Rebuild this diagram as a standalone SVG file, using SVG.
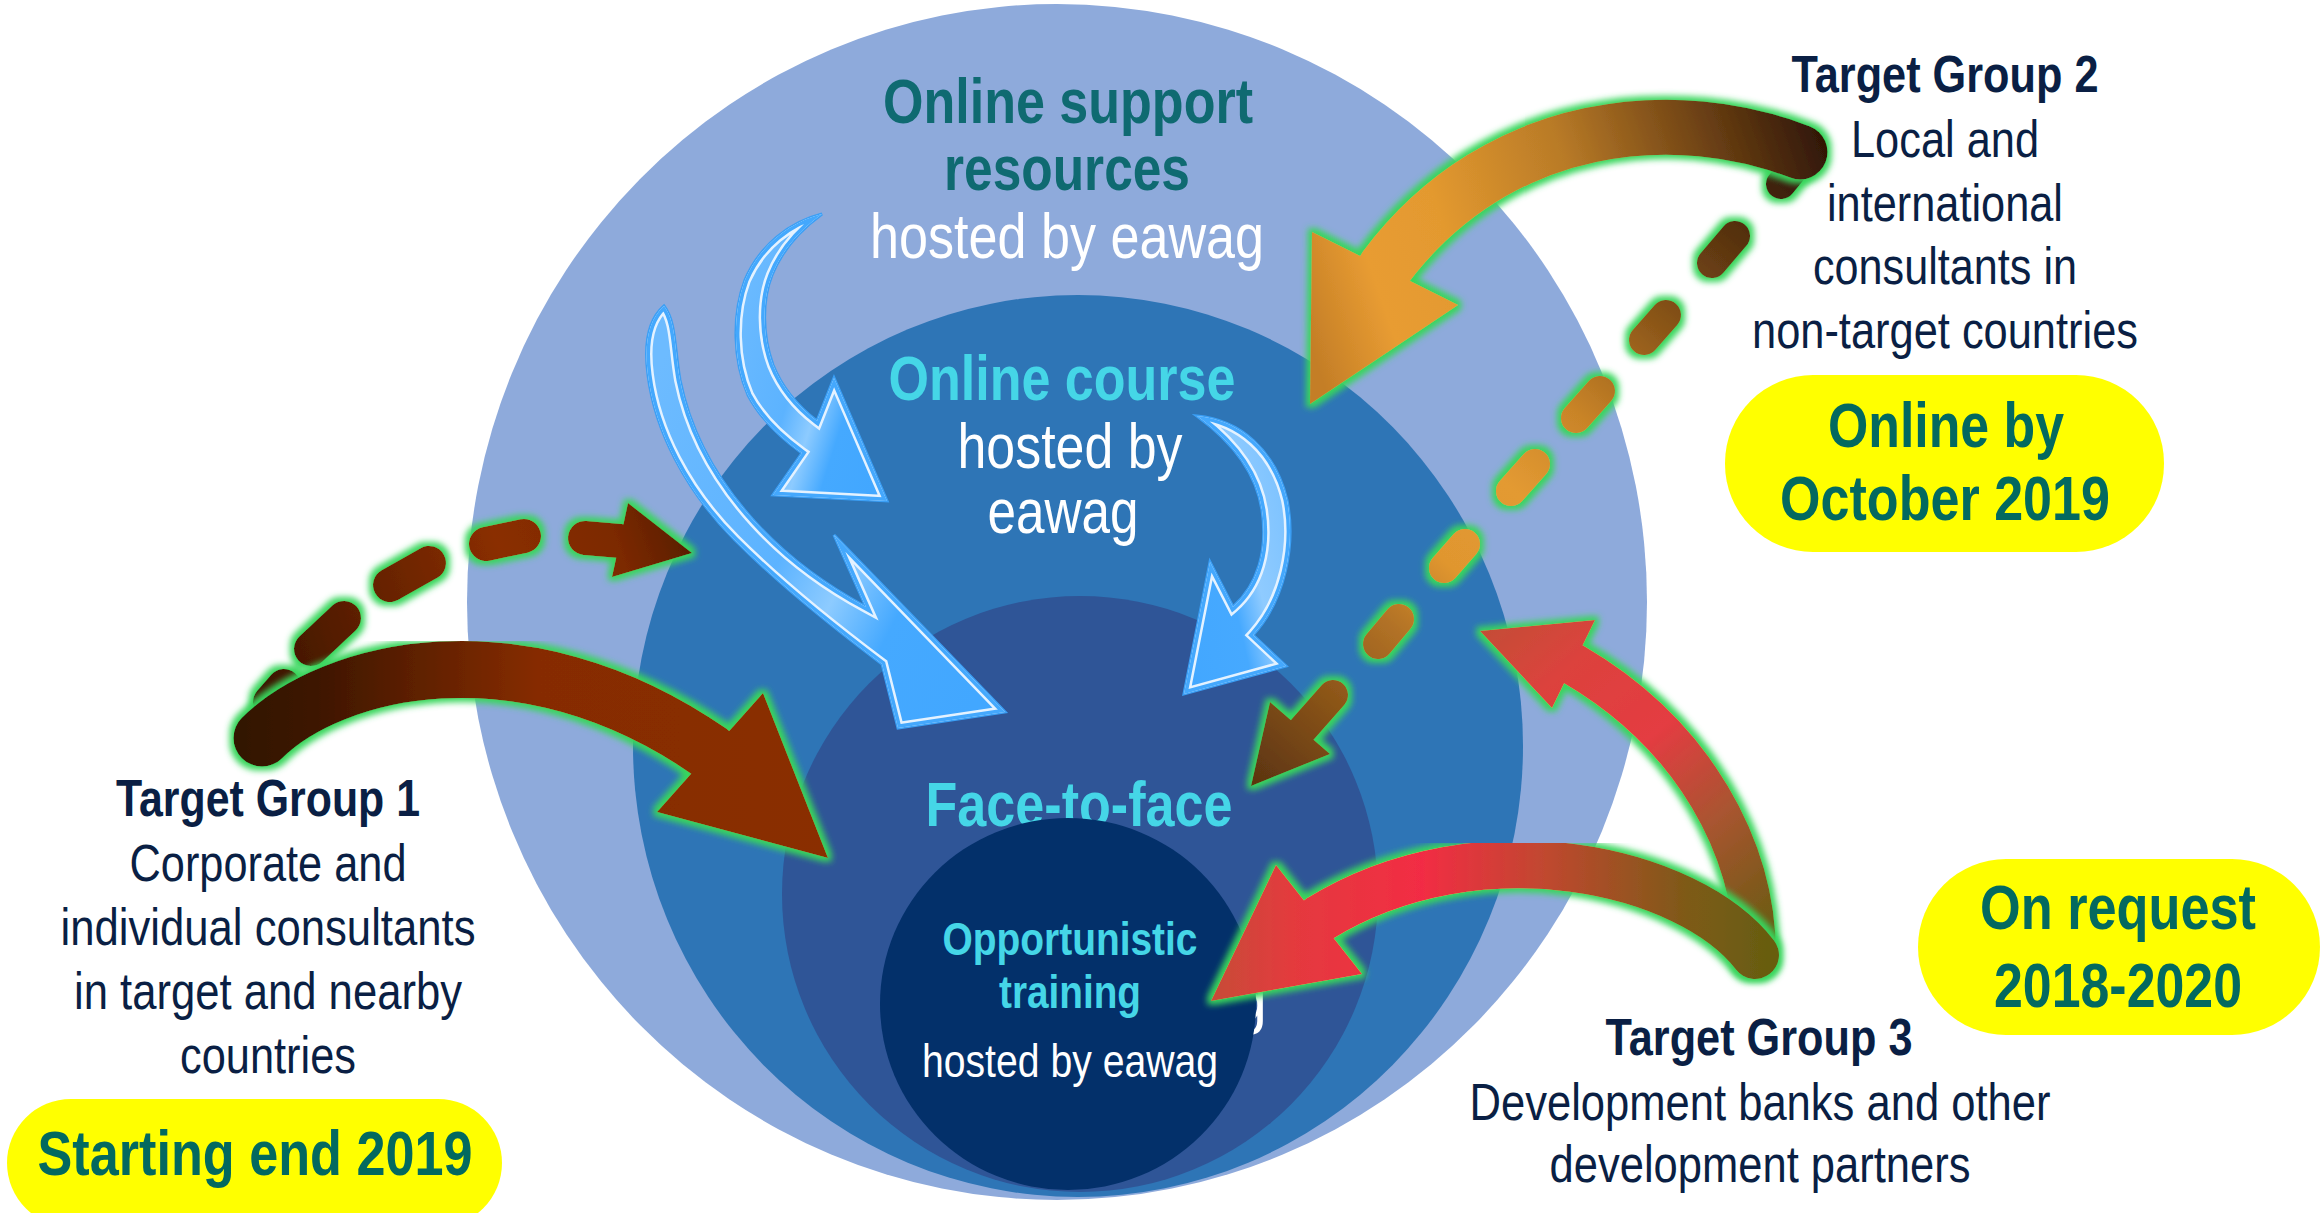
<svg xmlns="http://www.w3.org/2000/svg" xmlns:xlink="http://www.w3.org/1999/xlink" width="2323" height="1213" viewBox="0 0 2323 1213">
<defs>
<style>
text{font-family:"Liberation Sans Narrow","Arial Narrow","Liberation Sans",Arial,sans-serif;text-anchor:middle}
.b{font-weight:bold}
.s63{font-size:63px}
.s52{font-size:52px}
.s47{font-size:47px}
.teal{fill:#0f6a71}
.cyan{fill:#45d6e7}
.wh{fill:#ffffff}
.navy{fill:#0a1f44}
.pt{fill:#03695f}
.pill{fill:#ffff00}
.glow{filter:url(#glow)}
.bedge{stroke:#3b9ff5;stroke-width:3}
.bw{fill:none;stroke:#e4f2ff;stroke-width:12}
.bb{fill:none;stroke:#44a8fd;stroke-width:7}
</style>
<filter id="glow" x="-15%" y="-15%" width="130%" height="130%">
<feMorphology in="SourceAlpha" operator="dilate" radius="4" result="d"/>
<feGaussianBlur in="d" stdDeviation="3" result="bl"/>
<feFlood flood-color="#38d65c" result="c"/>
<feComposite in="c" in2="bl" operator="in" result="g"/>
<feMerge><feMergeNode in="g"/><feMergeNode in="SourceGraphic"/></feMerge>
</filter>
<linearGradient id="gTG1" gradientUnits="userSpaceOnUse" x1="245" y1="0" x2="830" y2="0">
<stop offset="0" stop-color="#331200"/><stop offset="0.12" stop-color="#3d1600"/><stop offset="0.5" stop-color="#862c00"/><stop offset="1" stop-color="#8a2e00"/>
</linearGradient>
<linearGradient id="gTG1d" gradientUnits="userSpaceOnUse" x1="268" y1="705" x2="692" y2="553">
<stop offset="0" stop-color="#3a1400"/><stop offset="0.35" stop-color="#6a2400"/><stop offset="0.6" stop-color="#8a2e00"/><stop offset="0.85" stop-color="#7c2900"/><stop offset="1" stop-color="#5a1e00"/>
</linearGradient>
<linearGradient id="gTG2" gradientUnits="userSpaceOnUse" x1="1825" y1="150" x2="1305" y2="330">
<stop offset="0" stop-color="#321806"/><stop offset="0.2" stop-color="#6e4214"/><stop offset="0.45" stop-color="#b87a27"/><stop offset="0.7" stop-color="#e3992f"/><stop offset="0.85" stop-color="#e89c32"/><stop offset="1" stop-color="#c47e27"/>
</linearGradient>
<linearGradient id="gTG2d" gradientUnits="userSpaceOnUse" x1="1795" y1="167" x2="1251" y2="786">
<stop offset="0" stop-color="#35190a"/><stop offset="0.12" stop-color="#5a3410"/><stop offset="0.25" stop-color="#8a5518"/><stop offset="0.4" stop-color="#c98428"/><stop offset="0.52" stop-color="#e39a32"/><stop offset="0.64" stop-color="#e0962f"/><stop offset="0.74" stop-color="#b27226"/><stop offset="0.86" stop-color="#8a5418"/><stop offset="1" stop-color="#5a3310"/>
</linearGradient>
<linearGradient id="gTG3u" gradientUnits="userSpaceOnUse" x1="1755" y1="955" x2="1480" y2="631">
<stop offset="0" stop-color="#665c10"/><stop offset="0.3" stop-color="#a85530"/><stop offset="0.55" stop-color="#e43c42"/><stop offset="0.8" stop-color="#dc423d"/><stop offset="1" stop-color="#c44d36"/>
</linearGradient>
<linearGradient id="gTG3l" gradientUnits="userSpaceOnUse" x1="1770" y1="0" x2="1209" y2="0">
<stop offset="0" stop-color="#675d10"/><stop offset="0.15" stop-color="#7e5a18"/><stop offset="0.4" stop-color="#c0482f"/><stop offset="0.62" stop-color="#f22c44"/><stop offset="0.85" stop-color="#e43a3e"/><stop offset="1" stop-color="#c64c37"/>
</linearGradient>
<linearGradient id="gBlue" x1="0" y1="0.2" x2="1" y2="0.8">
<stop offset="0" stop-color="#6dbbff"/><stop offset="0.45" stop-color="#5cb3ff"/><stop offset="0.6" stop-color="#8dcbff"/><stop offset="0.75" stop-color="#45a9ff"/><stop offset="1" stop-color="#42a7ff"/>
</linearGradient>
<linearGradient id="gBlue3" x1="1" y1="0.3" x2="0" y2="0.9">
<stop offset="0" stop-color="#7cc2ff"/><stop offset="0.35" stop-color="#8fcbff"/><stop offset="0.55" stop-color="#46a9ff"/><stop offset="1" stop-color="#42a7ff"/>
</linearGradient>
<path id="pb1" d="M 822 214 C 790 222 760 245 745 280 C 732 315 733 360 748 395 C 760 418 780 437 802 453 L 773 495 L 887 501 L 834 378 L 817 421 C 800 408 783 390 773 365 C 762 335 762 300 772 275 C 782 250 800 230 822 214 Z"/>
<path id="pb2" d="M 664 306 C 648 320 644 345 648 375 C 655 430 685 490 735 540 C 775 580 830 625 882 664 L 898 728 L 1005 712 L 834 535 L 866 607 C 825 585 785 555 755 522 C 715 478 690 430 680 380 C 674 345 676 322 664 306 Z"/>
<path id="pb3" d="M 1197 416 C 1240 420 1275 450 1287 500 C 1296 545 1285 600 1253 635 L 1286 666 L 1184 694 L 1210 562 L 1233 607 C 1258 585 1268 550 1262 510 C 1256 470 1230 440 1197 416 Z"/>
<clipPath id="cb1"><use xlink:href="#pb1"/></clipPath>
<clipPath id="cb2"><use xlink:href="#pb2"/></clipPath>
<clipPath id="cb3"><use xlink:href="#pb3"/></clipPath>
</defs>

<rect width="2323" height="1213" fill="#ffffff"/>

<g id="online-support-resources">
<ellipse cx="1057" cy="602" rx="590" ry="598" fill="#8eaadb"/>
<text x="1068" y="123" class="b s63 teal" textLength="370" lengthAdjust="spacingAndGlyphs">Online support</text>
<text x="1067" y="190" class="b s63 teal" textLength="246" lengthAdjust="spacingAndGlyphs">resources</text>
<text x="1067" y="258" class="s63 wh" textLength="394" lengthAdjust="spacingAndGlyphs">hosted by eawag</text>
</g>

<g id="online-course">
<ellipse cx="1078" cy="746" rx="445" ry="451" fill="#2e75b6"/>
<text x="1062" y="400" class="b s63 cyan" textLength="347" lengthAdjust="spacingAndGlyphs">Online course</text>
<text x="1070" y="468" class="s63 wh" textLength="225" lengthAdjust="spacingAndGlyphs">hosted by</text>
<text x="1063" y="533" class="s63 wh" textLength="151" lengthAdjust="spacingAndGlyphs">eawag</text>
</g>

<g id="face-to-face">
<circle cx="1080" cy="894" r="298" fill="#2f5597"/>
<text x="1079" y="826" class="b s63 cyan" textLength="307" lengthAdjust="spacingAndGlyphs">Face-to-face</text>
<text x="1267" y="1022" class="s63 wh" style="text-anchor:end">g</text>
</g>

<g id="opportunistic-training">
<ellipse cx="1068" cy="1004" rx="188" ry="186" fill="#03306a"/>
<text x="1070" y="955" class="b s47 cyan" textLength="255" lengthAdjust="spacingAndGlyphs">Opportunistic</text>
<text x="1070" y="1008" class="b s47 cyan" textLength="142" lengthAdjust="spacingAndGlyphs">training</text>
<text x="1070" y="1077" class="s47 wh" textLength="296" lengthAdjust="spacingAndGlyphs">hosted by eawag</text>
</g>

<g id="target-group-1">
<text x="268" y="816" class="b s52 navy" textLength="304" lengthAdjust="spacingAndGlyphs">Target Group 1</text>
<text x="268" y="881" class="s52 navy" textLength="277" lengthAdjust="spacingAndGlyphs">Corporate and</text>
<text x="268" y="945" class="s52 navy" textLength="415" lengthAdjust="spacingAndGlyphs">individual consultants</text>
<text x="268" y="1009" class="s52 navy" textLength="388" lengthAdjust="spacingAndGlyphs">in target and nearby</text>
<text x="268" y="1073" class="s52 navy" textLength="176" lengthAdjust="spacingAndGlyphs">countries</text>
</g>
<g id="timing-1">
<rect x="7" y="1099" width="495" height="128" rx="64" class="pill"/>
<text x="255" y="1175" class="b s63 pt" textLength="435" lengthAdjust="spacingAndGlyphs">Starting end 2019</text>
</g>

<g id="target-group-2">
<text x="1945" y="92" class="b s52 navy" textLength="307" lengthAdjust="spacingAndGlyphs">Target Group 2</text>
<text x="1945" y="157" class="s52 navy" textLength="188" lengthAdjust="spacingAndGlyphs">Local and</text>
<text x="1945" y="221" class="s52 navy" textLength="236" lengthAdjust="spacingAndGlyphs">international</text>
<text x="1945" y="284" class="s52 navy" textLength="264" lengthAdjust="spacingAndGlyphs">consultants in</text>
<text x="1945" y="348" class="s52 navy" textLength="386" lengthAdjust="spacingAndGlyphs">non-target countries</text>
</g>
<g id="timing-2">
<rect x="1725" y="375" width="439" height="177" rx="88" class="pill"/>
<text x="1946" y="447" class="b s63 pt" textLength="236" lengthAdjust="spacingAndGlyphs">Online by</text>
<text x="1945" y="520" class="b s63 pt" textLength="330" lengthAdjust="spacingAndGlyphs">October 2019</text>
</g>

<g id="target-group-3">
<text x="1759" y="1055" class="b s52 navy" textLength="307" lengthAdjust="spacingAndGlyphs">Target Group 3</text>
<text x="1760" y="1120" class="s52 navy" textLength="581" lengthAdjust="spacingAndGlyphs">Development banks and other</text>
<text x="1760" y="1182" class="s52 navy" textLength="421" lengthAdjust="spacingAndGlyphs">development partners</text>
</g>
<g id="timing-3">
<rect x="1918" y="859" width="402" height="176" rx="88" class="pill"/>
<text x="2118" y="929" class="b s63 pt" textLength="276" lengthAdjust="spacingAndGlyphs">On request</text>
<text x="2118" y="1007" class="b s63 pt" textLength="248" lengthAdjust="spacingAndGlyphs">2018-2020</text>
</g>

<g id="connectors">
<g id="blue-arrow-resources-course">
<use xlink:href="#pb1" fill="url(#gBlue)" class="bedge"/>
<use xlink:href="#pb1" class="bw" clip-path="url(#cb1)"/>
<use xlink:href="#pb1" class="bb" clip-path="url(#cb1)"/>
</g>
<g id="blue-arrow-resources-face">
<use xlink:href="#pb2" fill="url(#gBlue)" class="bedge"/>
<use xlink:href="#pb2" class="bw" clip-path="url(#cb2)"/>
<use xlink:href="#pb2" class="bb" clip-path="url(#cb2)"/>
</g>
<g id="blue-arrow-course-face">
<use xlink:href="#pb3" fill="url(#gBlue3)" class="bedge"/>
<use xlink:href="#pb3" class="bw" clip-path="url(#cb3)"/>
<use xlink:href="#pb3" class="bb" clip-path="url(#cb3)"/>
</g>

<g id="arrow-tg1-dashed" class="glow">
<g stroke="url(#gTG1d)" stroke-width="34" stroke-linecap="round" fill="none">
<line x1="270" y1="702" x2="284" y2="686"/>
<line x1="311" y1="649" x2="344" y2="618"/>
<line x1="390" y1="585" x2="429" y2="563"/>
<line x1="486" y1="544" x2="524" y2="536"/>
<line x1="585" y1="538" x2="620" y2="541"/>
</g>
<polygon points="628,503 692,553 612,577" fill="url(#gTG1d)"/>
</g>
<g id="arrow-tg1" class="glow">
<path d="M 262 738 C 330 670 520 620 710 752" fill="none" stroke="url(#gTG1)" stroke-width="57" stroke-linecap="round"/>
<polygon points="763,693 828,858 657,812" fill="url(#gTG1)"/>
</g>

<g id="arrow-tg2-dashed" class="glow">
<g stroke="url(#gTG2d)" stroke-width="30" stroke-linecap="round" fill="none">
<line x1="1795" y1="167" x2="1781" y2="184"/>
<line x1="1735" y1="236" x2="1712" y2="263"/>
<line x1="1666" y1="315" x2="1644" y2="340"/>
<line x1="1600" y1="391" x2="1576" y2="418"/>
<line x1="1535" y1="464" x2="1511" y2="491"/>
<line x1="1465" y1="544" x2="1444" y2="568"/>
<line x1="1399" y1="619" x2="1378" y2="644"/>
<line x1="1333" y1="695" x2="1303" y2="729"/>
</g>
<polygon points="1270,702 1251,786 1330,754" fill="url(#gTG2d)"/>
</g>
<g id="arrow-tg2" class="glow">
<path d="M 1800 152 C 1680 105 1500 115 1385 268" fill="none" stroke="url(#gTG2)" stroke-width="55" stroke-linecap="round"/>
<polygon points="1312,232 1310,404 1458,305" fill="url(#gTG2)"/>
</g>

<g id="arrow-tg3-online" class="glow">
<path d="M 1755 955 C 1755 850 1695 735 1573 664" fill="none" stroke="url(#gTG3u)" stroke-width="42" stroke-linecap="round"/>
<polygon points="1595,620 1480,631 1552,708" fill="url(#gTG3u)"/>
</g>
<g id="arrow-tg3-face" class="glow">
<path d="M 1755 955 C 1690 870 1480 820 1319 919" fill="none" stroke="url(#gTG3l)" stroke-width="48" stroke-linecap="round"/>
<polygon points="1276,865 1211,1001 1362,974" fill="url(#gTG3l)"/>
</g>
</g>
</svg>
